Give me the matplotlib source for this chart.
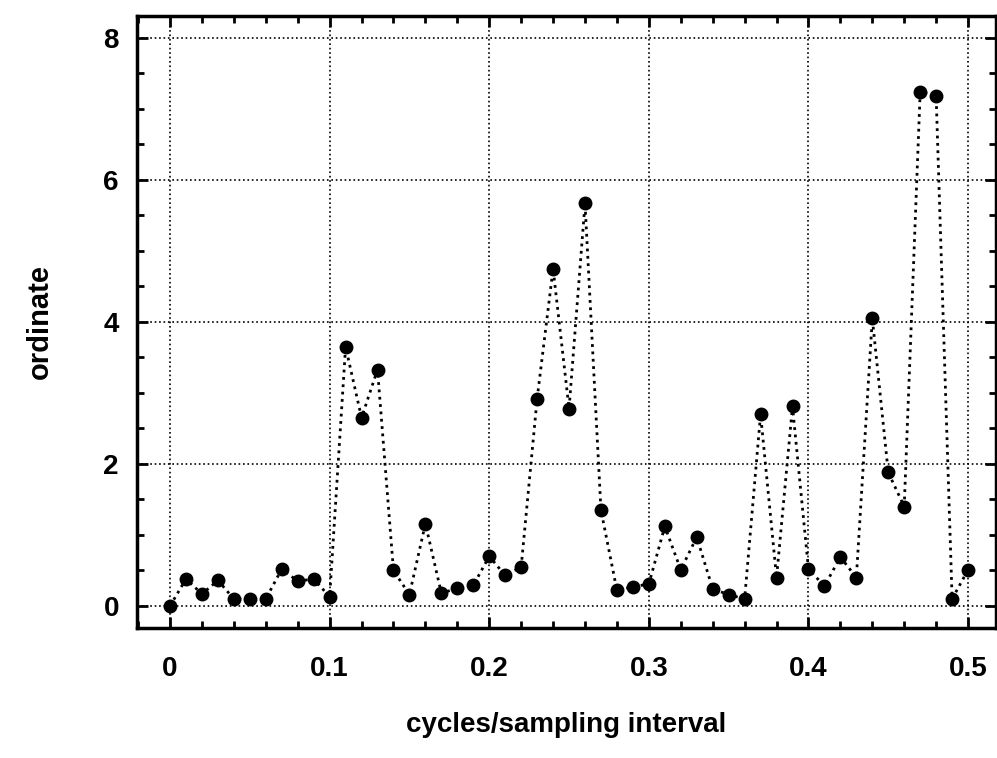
import matplotlib
matplotlib.use("Agg")
import matplotlib.pyplot as plt
from matplotlib.ticker import MultipleLocator

freq = [i / 100 for i in range(51)]
ordinate = [0.00, 0.38, 0.17, 0.36, 0.10, 0.10, 0.10, 0.52, 0.35, 0.38,
            0.13, 3.65, 2.65, 3.33, 0.50, 0.16, 1.16, 0.18, 0.25, 0.29,
            0.70, 0.43, 0.55, 2.92, 4.75, 2.78, 5.67, 1.35, 0.22, 0.27,
            0.31, 1.12, 0.51, 0.97, 0.24, 0.16, 0.10, 2.70, 0.40, 2.81,
            0.52, 0.28, 0.69, 0.40, 4.05, 1.88, 1.40, 7.24, 7.18, 0.10,
            0.51]

xticks = [0, 0.1, 0.2, 0.3, 0.4, 0.5]
xticklabels = ["0", "0.1", "0.2", "0.3", "0.4", "0.5"]
yticks = [0, 2, 4, 6, 8]

plt.rcParams["font.family"] = ["Liberation Sans", "DejaVu Sans"]
plt.rcParams["font.weight"] = "bold"

fig = plt.figure(figsize=(9.97, 7.58), dpi=100)
ax = fig.add_axes([0.1374, 0.1715, 0.8616, 0.8075])

ax.plot(freq, ordinate, color="black", linestyle=":", linewidth=2.0,
        marker="o", markersize=9, markerfacecolor="black",
        markeredgecolor="black")

ax.set_xlim(-0.0207, 0.5175)
ax.set_ylim(-0.31, 8.31)
ax.set_xticks(xticks)
ax.set_xticklabels(xticklabels)
ax.set_yticks(yticks)
ax.xaxis.set_minor_locator(MultipleLocator(0.02))
ax.yaxis.set_minor_locator(MultipleLocator(0.5))

ax.tick_params(which="both", direction="in", top=True, right=True,
               width=2, labelsize=20)
ax.tick_params(axis="x", which="major", length=8, pad=20)
ax.tick_params(axis="y", which="major", length=8, pad=13)
ax.tick_params(which="minor", length=5)

for lab in ax.get_xticklabels() + ax.get_yticklabels():
    lab.set_fontweight("bold")

for sp in ax.spines.values():
    sp.set_linewidth(2.5)

ax.grid(True, which="major", color="black", linestyle=":", linewidth=1.2)

ax.set_xlabel("cycles/sampling interval", fontsize=20, fontweight="bold",
              labelpad=22)
ax.set_ylabel("ordinate", fontsize=21, fontweight="bold", labelpad=36)

fig.savefig("out.png", dpi=100)
